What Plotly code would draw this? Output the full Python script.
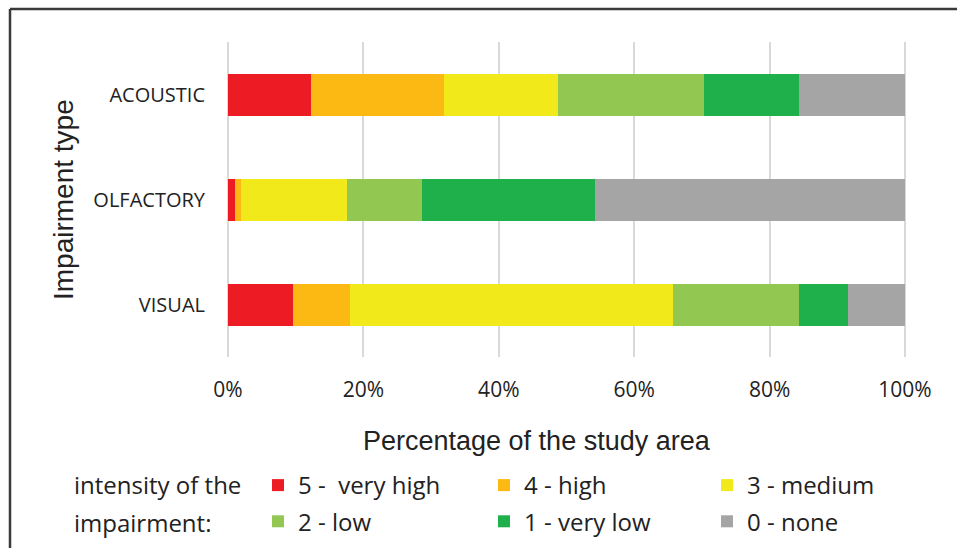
import plotly.graph_objects as go

categories = ["ACOUSTIC", "OLFACTORY", "VISUAL"]
series_names = ["5 -  very high", "4 - high", "3 - medium", "2 - low", "1 - very low", "0 - none"]
very_high = [12.3, 1.0, 9.6]
high = [19.6, 0.9, 8.4]
medium = [16.8, 15.6, 47.7]
low = [21.6, 11.1, 18.7]
very_low = [14.1, 25.6, 7.2]
none = [15.6, 45.8, 8.4]
series_values = [very_high, high, medium, low, very_low, none]
colors = ["#ED1C24", "#FDB913", "#F1E91A", "#92C852", "#1FAF4B", "#A5A5A5"]
legend_ids = ["legend", "legend2", "legend3", "legend", "legend2", "legend3"]
x_ticks = [0, 20, 40, 60, 80, 100]
x_tick_labels = ["0%", "20%", "40%", "60%", "80%", "100%"]

W, H = 957, 548
L, R, T, B = 226, 50, 42, 191
pw, ph = W - L - R, H - T - B

def px(x):
    return (x - L) / pw

def py(y):
    return (H - B - y) / ph

def cx(x):
    return x / W

def cy(y):
    return 1 - y / H

fig = go.Figure()
for name, vals, col, lg in zip(series_names, series_values, colors, legend_ids):
    fig.add_trace(go.Bar(
        y=categories, x=vals, name=name, orientation="h",
        marker=dict(color=col, line=dict(width=0)),
        legend=lg, legendgroup=name,
    ))

SANS = "Open Sans, sans-serif"
ARIAL = "Liberation Sans, Arial, sans-serif"
leg_font = dict(family=SANS, size=24, color="#222")
leg_common = dict(orientation="v", xanchor="left", yanchor="top",
                  xref="container", yref="container",
                  font=leg_font, tracegroupgap=2, bgcolor="rgba(0,0,0,0)",
                  itemclick=False, itemdoubleclick=False)

fig.update_layout(
    width=W, height=H,
    margin=dict(l=L, r=R, t=T, b=B, autoexpand=False),
    barmode="stack", bargap=0.6,
    plot_bgcolor="white", paper_bgcolor="white",
    font=dict(family=SANS, color="#222"),
    xaxis=dict(range=[-0.3, 100.3], tickvals=x_ticks, ticktext=x_tick_labels,
               showgrid=True, gridcolor="#D9D9D9", gridwidth=1.5,
               zeroline=False, showline=False, ticks="",
               tickfont=dict(family=SANS, size=21, color="#222"),
               ticklabelstandoff=18, automargin=False),
    yaxis=dict(autorange="reversed", showgrid=False, zeroline=False, showline=False,
               ticks="", tickfont=dict(family=SANS, size=20, color="#222"),
               ticklabelstandoff=20, automargin=False),
    legend=dict(x=cx(258), y=cy(463), **leg_common),
    legend2=dict(x=cx(484), y=cy(463), **leg_common),
    legend3=dict(x=cx(707), y=cy(463), **leg_common),
    showlegend=True,
)

# frame (top and left lines)
fig.add_shape(type="line", xref="paper", yref="paper", x0=px(10), x1=px(W + 5),
              y0=py(9), y1=py(9), line=dict(color="#3A3A3A", width=2.5))
fig.add_shape(type="line", xref="paper", yref="paper", x0=px(10), x1=px(10),
              y0=py(9), y1=py(H + 5), line=dict(color="#3A3A3A", width=2.5))

# axis titles
fig.add_annotation(text="Percentage of the study area", xref="paper", yref="paper",
                   x=px(537), y=py(441), xanchor="center", yanchor="middle", showarrow=False,
                   font=dict(family=ARIAL, size=27, color="#222"))
fig.add_annotation(text="Impairment type", xref="paper", yref="paper",
                   x=px(63), y=py(200), xanchor="center", yanchor="middle", showarrow=False,
                   textangle=-90,
                   font=dict(family=ARIAL, size=28, color="#222"))
# legend caption
fig.add_annotation(text="intensity of the", xref="paper", yref="paper",
                   x=px(72), y=py(485), xanchor="left", yanchor="middle", showarrow=False,
                   font=leg_font)
fig.add_annotation(text="impairment:", xref="paper", yref="paper",
                   x=px(72), y=py(522), xanchor="left", yanchor="middle", showarrow=False,
                   font=leg_font)

fig.write_html("out.html")
